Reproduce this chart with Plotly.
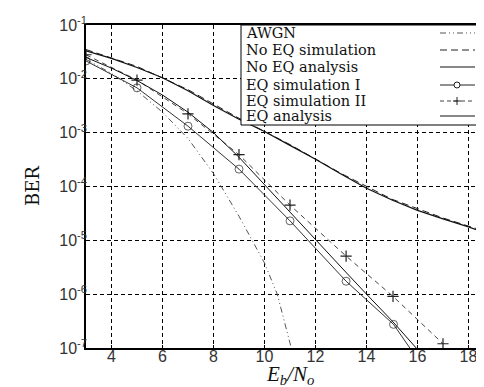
import plotly.graph_objects as go

# ---------------- data ----------------
ebno_awgn = [3, 4, 5, 6, 7, 8, 9, 9.5, 10, 10.5, 11.05]
ber_awgn = [2.3e-2, 1.26e-2, 6.0e-3, 2.4e-3, 7.8e-4, 1.74e-4, 2.8e-5, 1.0e-5, 3.8e-6, 1.0e-6, 1.0e-7]

ebno_noeq_an = [3, 4, 5, 6, 7, 8, 9, 10, 11, 12, 13, 14, 15, 16, 17, 18, 19]
ber_noeq_an = [3.3e-2, 2.4e-2, 1.62e-2, 1.05e-2, 6.0e-3, 3.2e-3, 1.78e-3, 1.05e-3, 5.8e-4,
               3.2e-4, 1.7e-4, 9.3e-5, 5.6e-5, 3.6e-5, 2.5e-5, 1.78e-5, 1.2e-5]

ebno_noeq_sim = [3, 5, 7, 9, 11, 13, 15, 17, 19]
ber_noeq_sim = [3.5e-2, 1.7e-2, 6.3e-3, 1.85e-3, 6.0e-4, 1.75e-4, 5.8e-5, 2.6e-5, 1.3e-5]

ebno_eq_sim1 = [3, 5, 7, 9, 11, 13.2, 15.06, 15.7]
ber_eq_sim1 = [2.15e-2, 6.8e-3, 1.32e-3, 2.1e-4, 2.3e-5, 1.74e-6, 2.75e-7, 1.0e-7]

ebno_eq_sim2 = [3, 5, 7, 9, 11, 13.2, 15.04, 17.0]
ber_eq_sim2 = [2.8e-2, 9.5e-3, 2.24e-3, 3.9e-4, 4.5e-5, 5.1e-6, 9.1e-7, 1.2e-7]

ebno_eq_an = [3, 4, 5, 6, 7, 8, 9, 10, 11, 12, 13, 14, 15, 15.95]
ber_eq_an = [2.5e-2, 1.58e-2, 9.3e-3, 5.0e-3, 2.4e-3, 1.0e-3, 3.5e-4, 1.07e-4, 3.3e-5,
             1.0e-5, 3.2e-6, 1.0e-6, 3.2e-7, 1.0e-7]

x_ticks = [4, 6, 8, 10, 12, 14, 16, 18]
y_tick_vals = [1e-7, 1e-6, 1e-5, 1e-4, 1e-3, 1e-2, 1e-1]
y_tick_text = ["10<sup>-7</sup>", "10<sup>-6</sup>", "10<sup>-5</sup>", "10<sup>-4</sup>",
               "10<sup>-3</sup>", "10<sup>-2</sup>", "10<sup>-1</sup>"]
legend_labels = ["AWGN", "No EQ simulation", "No EQ analysis",
                 "EQ simulation I", "EQ simulation II", "EQ analysis"]

# ---------------- figure ----------------
W, H = 484, 387
L, R, T, B = 78, 0, 17, 47
pw, ph = W - L - R, H - T - B

DASHDOT2 = "6px,3px,1px,3px,1px,3px"
fig = go.Figure()
fig.add_trace(go.Scatter(x=ebno_awgn, y=ber_awgn, mode="lines",
                         line=dict(color="#555555", width=1, dash=DASHDOT2)))
fig.add_trace(go.Scatter(x=ebno_noeq_sim, y=ber_noeq_sim, mode="lines",
                         line=dict(color="#222222", width=1, dash="7px,4px")))
fig.add_trace(go.Scatter(x=ebno_noeq_an, y=ber_noeq_an, mode="lines",
                         line=dict(color="#111111", width=1.2)))
fig.add_trace(go.Scatter(x=ebno_eq_sim1, y=ber_eq_sim1, mode="lines+markers",
                         line=dict(color="#333333", width=1),
                         marker=dict(symbol="circle-open", size=[8] * (len(ebno_eq_sim1) - 1) + [0],
                                     color="#222222", line=dict(width=1))))
fig.add_trace(go.Scatter(x=ebno_eq_sim2, y=ber_eq_sim2, mode="lines+markers",
                         line=dict(color="#444444", width=1, dash="5px,4px"),
                         marker=dict(symbol="cross-thin-open", size=8,
                                     color="#222222", line=dict(width=1.2, color="#222222"))))
fig.add_trace(go.Scatter(x=ebno_eq_an, y=ber_eq_an, mode="lines",
                         line=dict(color="#111111", width=1)))


def px_x(px):
    return (px - L) / pw


def px_y(py):
    return (H - B - py) / ph


shapes = []
annotations = []
# legend box
shapes.append(dict(type="rect", xref="paper", yref="paper",
                   x0=px_x(233), x1=px_x(495), y0=px_y(117), y1=px_y(17),
                   fillcolor="white", line=dict(color="black", width=1), layer="above"))
row_y = [25, 42, 59, 77, 93, 108]
styles = [("#555555", DASHDOT2, None), ("#222222", "7px,4px", None), ("#111111", "solid", None),
          ("#222222", "solid", "o"), ("#444444", "4px,3px", "+"), ("#111111", "solid", None)]
for lab, yy, (col, dash, mk) in zip(legend_labels, row_y, styles):
    annotations.append(dict(xref="paper", yref="paper", x=px_x(236), y=px_y(yy),
                            xanchor="left", yanchor="middle", showarrow=False, text=lab,
                            font=dict(family="DejaVu Serif", size=14.5, color="#111111")))
    shapes.append(dict(type="line", xref="paper", yref="paper",
                       x0=px_x(432), x1=px_x(467), y0=px_y(yy), y1=px_y(yy),
                       line=dict(color=col, width=1, dash=dash), layer="above"))
    if mk == "o":
        shapes.append(dict(type="circle", xref="paper", yref="paper",
                           x0=px_x(446), x1=px_x(452), y0=px_y(yy + 3), y1=px_y(yy - 3),
                           fillcolor="white", line=dict(color="#222222", width=1), layer="above"))
    elif mk == "+":
        shapes.append(dict(type="line", xref="paper", yref="paper",
                           x0=px_x(449), x1=px_x(449), y0=px_y(yy + 4), y1=px_y(yy - 4),
                           line=dict(color="#222222", width=1), layer="above"))
        shapes.append(dict(type="line", xref="paper", yref="paper",
                           x0=px_x(445), x1=px_x(453), y0=px_y(yy), y1=px_y(yy),
                           line=dict(color="#222222", width=1), layer="above"))

# axis titles
annotations.append(dict(xref="paper", yref="paper", x=px_x(24), y=px_y(178),
                        xanchor="center", yanchor="middle", showarrow=False, text="BER",
                        textangle=-90,
                        font=dict(family="DejaVu Serif", size=18, color="#111111")))
annotations.append(dict(xref="paper", yref="paper", x=px_x(282), y=px_y(367),
                        xanchor="center", yanchor="middle", showarrow=False,
                        text="<i>E<sub>b</sub>/N<sub>o</sub></i>",
                        font=dict(family="Liberation Serif", size=21, color="#111111")))

fig.update_layout(
    width=W, height=H,
    margin=dict(l=L, r=R, t=T, b=B),
    paper_bgcolor="white", plot_bgcolor="white",
    showlegend=False,
    shapes=shapes, annotations=annotations,
    font=dict(family="Liberation Sans", size=15, color="#333333"),
)
fig.update_xaxes(range=[3, 3 + pw / 25.5], tickvals=x_ticks, ticktext=[str(v) for v in x_ticks],
                 showline=True, linecolor="black", linewidth=1.5, mirror=True,
                 showgrid=True, gridcolor="black", gridwidth=1.2, griddash="4px,3px",
                 ticks="inside", ticklen=3, tickcolor="black", zeroline=False,
                 ticklabelstandoff=-7,
                 tickfont=dict(family="Liberation Sans", size=16, color="#333333"))
fig.update_yaxes(type="log", range=[-7, -1], tickvals=y_tick_vals, ticktext=y_tick_text,
                 showline=True, linecolor="black", linewidth=1.5, mirror=False,
                 showgrid=True, gridcolor="black", gridwidth=1.2, griddash="4px,3px",
                 ticks="inside", ticklen=3, tickcolor="black", zeroline=False,
                 ticklabelstandoff=-6,
                 tickfont=dict(family="Liberation Sans", size=16, color="#333333"))

fig.write_html("out.html")
